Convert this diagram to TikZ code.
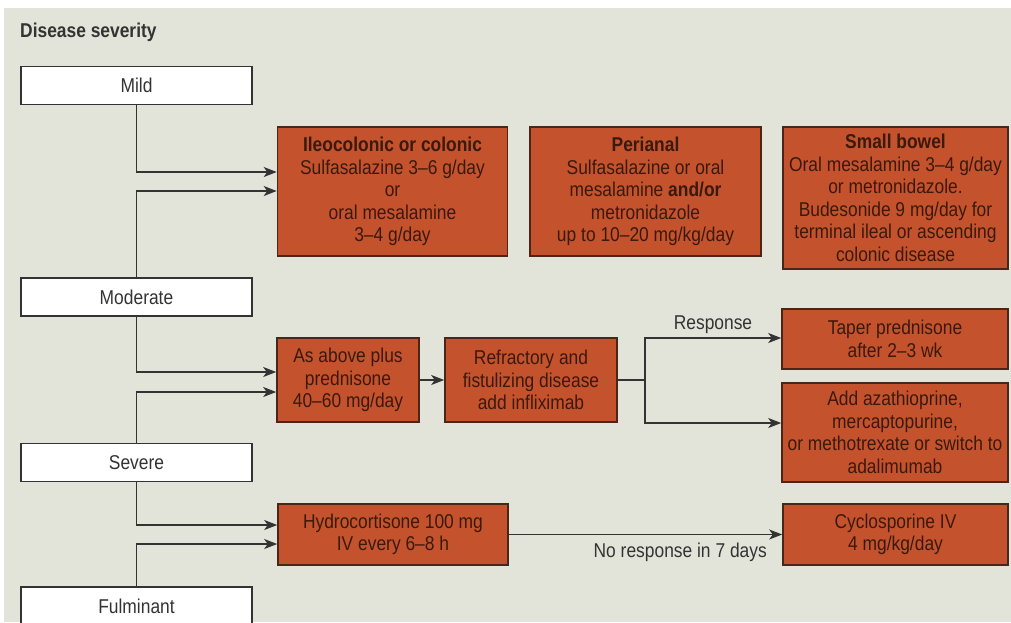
\documentclass[tikz,border=0pt]{standalone}
\usepackage{fontspec}
\setmainfont{Liberation Sans}[FakeStretch=0.87]
\usetikzlibrary{arrows.meta}
\definecolor{bg}{HTML}{E3E4D9}
\definecolor{boxfill}{HTML}{C4532D}
\definecolor{boxline}{HTML}{4A2619}
\definecolor{boxtext}{HTML}{3B190D}
\definecolor{ink}{HTML}{333333}
\newcommand\dxfont{\fontsize{20}{22.5}\selectfont}
\tikzset{
  every node/.style={font=\dxfont},
  level/.style={draw=ink, line width=1.3pt, fill=white, text=ink,
    minimum width=231pt, minimum height=38pt, inner sep=0pt},
  treat/.style={draw=boxline, line width=1.6pt, fill=boxfill, text=boxtext,
    align=center, inner sep=0pt},
  arr/.style={draw=ink, line width=1.4pt, -{Stealth[length=13pt, width=10pt, inset=3.5pt]}},
  link/.style={draw=ink, line width=1.4pt},
  lbl/.style={text=ink, inner sep=0pt}
}
\begin{document}
\begin{tikzpicture}[x=1pt, y=-1pt]
\useasboundingbox (0,0) rectangle (1011,622);
\clip (0,0) rectangle (1011,622);
\fill[white] (0,0) rectangle (1011,622);
\fill[bg] (4,8) rectangle (1011,622);

% heading
\node[lbl, anchor=west, font=\dxfont\bfseries] (title) at (20,32) {Disease severity};

% severity levels
\node[level] (mild)      at (136.5,85.5) {Mild};
\node[level] (moderate)  at (136.5,297)  {Moderate};
\node[level] (severe)    at (136.5,462.5) {Severe};
\node[level] (fulminant) at (136.5,606)  {Fulminant};

% first-line therapy by location
\node[treat, minimum width=230pt, minimum height=129pt] (ileo) at (392.5,191.5)
  {\textbf{Ileocolonic or colonic}\\Sulfasalazine 3–6 g/day\\or\\oral mesalamine\\3–4 g/day};
\node[treat, minimum width=231pt, minimum height=129pt] (peri) at (645.5,191.5)
  {\textbf{Perianal}\\Sulfasalazine or oral\\mesalamine \textbf{and/or}\\metronidazole\\up to 10–20 mg/kg/day};
\node[treat, minimum width=225pt, minimum height=142pt] (small) at (895.5,198)
  {\textbf{Small bowel}\\Oral mesalamine 3–4 g/day\\or metronidazole.\\Budesonide 9 mg/day for\\terminal ileal or ascending\\colonic disease};

% moderate / severe pathway
\node[treat, minimum width=142pt, minimum height=84pt] (asabove) at (348,380)
  {As above plus\\prednisone\\40–60 mg/day};
\node[treat, minimum width=172pt, minimum height=84pt] (refr) at (531,380)
  {Refractory and\\fistulizing disease\\add infliximab};
\node[treat, minimum width=226pt, minimum height=60pt] (taper) at (895,339)
  {Taper prednisone\\after 2–3 wk};
\node[treat, minimum width=226pt, minimum height=99pt] (addaza) at (895,432.5)
  {Add azathioprine,\\mercaptopurine,\\or methotrexate or switch to\\adalimumab};

% fulminant pathway
\node[treat, minimum width=230pt, minimum height=61pt] (hydro) at (393,534.5)
  {Hydrocortisone 100 mg\\IV every 6–8 h};
\node[treat, minimum width=225pt, minimum height=61pt] (cyclo) at (895.5,534.5)
  {Cyclosporine IV\\4 mg/kg/day};

% connectors from severity levels
\draw[arr] (mild.south) |- (ileo.west |- 0,172);
\draw[arr] (moderate.north) |- (ileo.west |- 0,191);
\draw[arr] (moderate.south) |- (asabove.west |- 0,372);
\draw[arr] (severe.north) |- (asabove.west |- 0,392);
\draw[arr] (severe.south) |- (hydro.west |- 0,525);
\draw[arr] (fulminant.north) |- (hydro.west |- 0,544);

% escalation
\draw[arr] (asabove.east) -- (refr.west);
\coordinate (branch) at (645,380);
\draw[link] (refr.east) -- (branch);
\draw[arr] (branch) |- (taper.west |- 0,338);
\draw[arr] (branch) |- (addaza.west |- 0,423);
\node[lbl] (resp) at (713,325) {Response};

\draw[arr] (hydro.east) -- (cyclo.west);
\node[lbl, anchor=east] (noresp) at (767,552) {No response in 7 days};
\end{tikzpicture}
\end{document}
